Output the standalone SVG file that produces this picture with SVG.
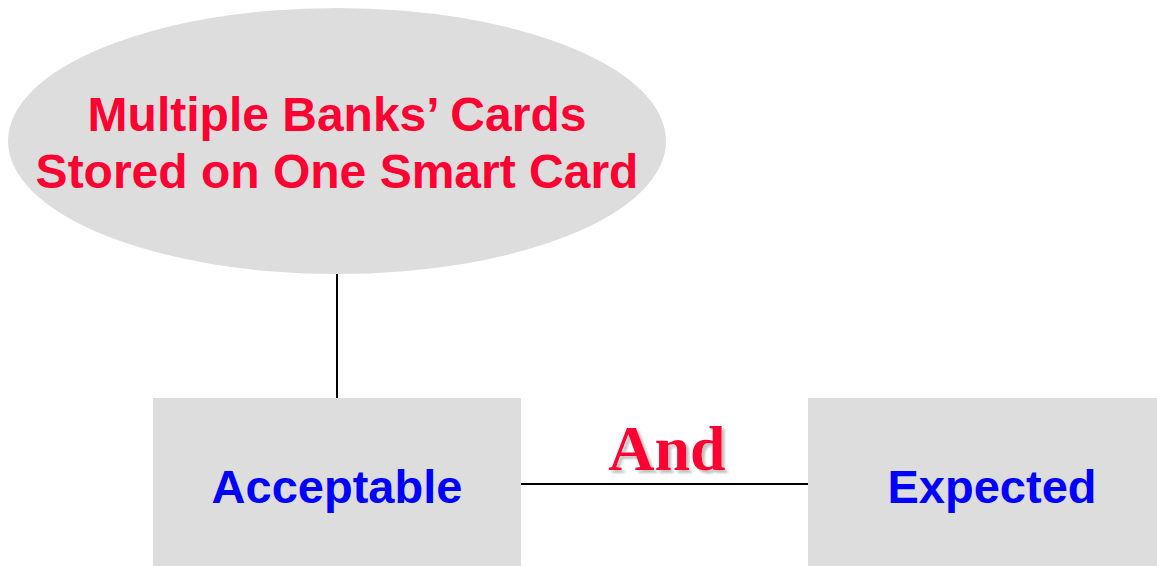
<svg xmlns="http://www.w3.org/2000/svg" width="1157" height="566" viewBox="0 0 1157 566">
  <style>
    .node { fill: #dddddd; stroke: none; }
    .title { font-family: "Liberation Sans", Arial, sans-serif; font-weight: bold; font-size: 48px; fill: #ff0033; text-anchor: middle; }
    .label { font-family: "Liberation Sans", Arial, sans-serif; font-weight: bold; font-size: 47px; fill: #0000ff; text-anchor: middle; }
    .join { font-family: "Liberation Serif", "Times New Roman", serif; font-weight: bold; font-size: 64px; fill: #ff0033; text-anchor: middle; }
    .link { stroke: #000000; stroke-width: 2; fill: none; }
  </style>
  <defs>
    <!-- soft grey shadow behind the "And" label -->
    <filter id="shadow" x="-10%" y="-20%" width="125%" height="140%">
      <feDropShadow dx="3" dy="3" stdDeviation="1" flood-color="#999999" flood-opacity="0.6"/>
    </filter>
  </defs>
  <rect width="1157" height="566" fill="#ffffff"/>

  <g id="connectors">
    <line class="link" x1="337" y1="273" x2="337" y2="398"/>
    <line class="link" x1="521" y1="484" x2="808" y2="484"/>
  </g>

  <g id="node-smart-card">
    <ellipse class="node" cx="337" cy="141" rx="329" ry="133"/>
    <text class="title" x="337" y="131">Multiple Banks’ Cards</text>
    <text class="title" x="337" y="188">Stored on One Smart Card</text>
  </g>

  <g id="node-acceptable">
    <rect class="node" x="153" y="398" width="368" height="168"/>
    <text class="label" x="337" y="503">Acceptable</text>
  </g>

  <g id="node-expected">
    <rect class="node" x="808" y="398" width="349" height="168"/>
    <text class="label" x="992" y="503">Expected</text>
  </g>

  <g id="label-and">
    <text class="join" x="667" y="470" filter="url(#shadow)">And</text>
  </g>
</svg>
